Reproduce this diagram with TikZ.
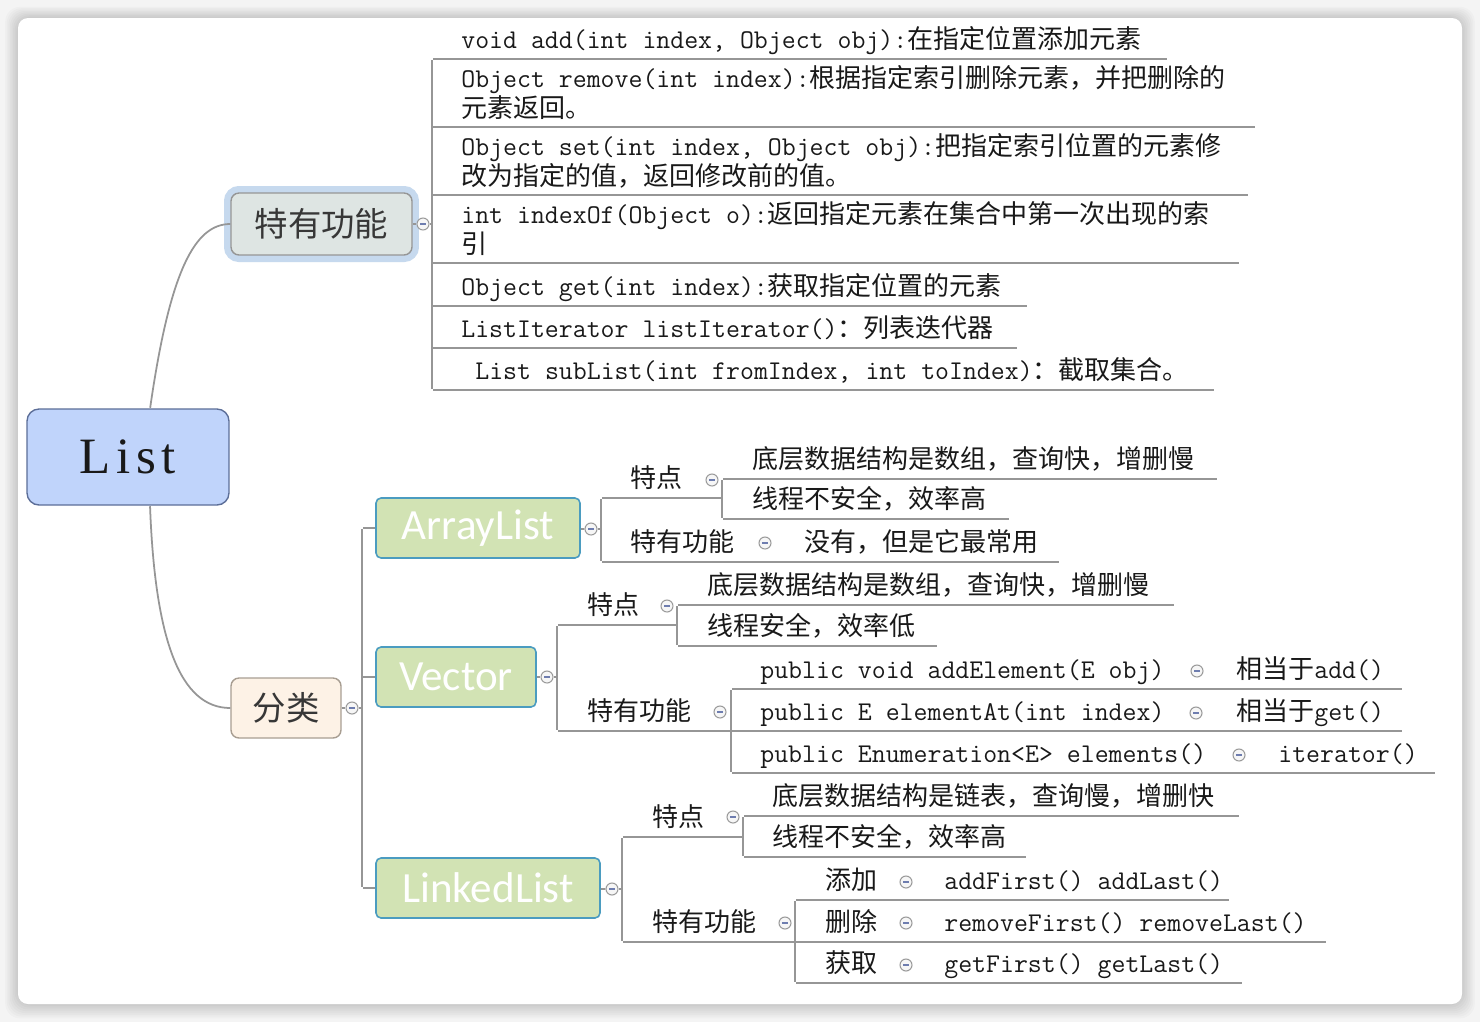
\documentclass[tikz,border=0pt]{standalone}
\usepackage{fontspec}
\usepackage{xcolor}
\usepackage{tikz}
\setmainfont{Latin Modern Mono}
\newfontfamily\hanzi{Noto Sans CJK SC}[Scale=0.961]
\newfontfamily\kindfont{Carlito}
\newfontfamily\rootfont{Liberation Serif}[LetterSpace=11]
\definecolor{bg}{RGB}{244,244,244}
\definecolor{rootfill}{RGB}{192,212,251}
\definecolor{rootline}{RGB}{92,110,152}
\definecolor{hubfill}{RGB}{222,229,227}
\definecolor{hubline}{RGB}{150,150,150}
\definecolor{halo}{RGB}{198,217,238}
\definecolor{catfill}{RGB}{253,242,230}
\definecolor{catline}{RGB}{168,158,146}
\definecolor{kindfill}{RGB}{210,227,180}
\definecolor{kindline}{RGB}{75,156,192}
\definecolor{linegray}{RGB}{150,150,150}
\definecolor{foldline}{RGB}{155,155,155}
\definecolor{foldfill}{RGB}{246,246,246}
\definecolor{foldbar}{RGB}{110,125,175}
\definecolor{ink}{RGB}{25,25,25}
\definecolor{hubink}{RGB}{55,55,55}
\pgfdeclarelayer{background}
\pgfdeclarelayer{nodelayer}
\pgfdeclarelayer{edgelayer}
\pgfsetlayers{background,nodelayer,edgelayer,main}
\tikzset{
    none/.style = {inner sep=0pt},
    root/.style = {rectangle, rounded corners=0.24cm, draw=rootline, fill=rootfill, line width=0.8pt,
                   minimum width=4.04cm, minimum height=1.92cm, text=ink, font=\rootfont\fontsize{29}{29}\selectfont},
    hub/.style = {rectangle, rounded corners=0.16cm, draw=hubline, line width=0.8pt, text=hubink,
                  font=\fontsize{19.8}{19.8}\selectfont\hanzi},
    kind/.style = {rectangle, rounded corners=0.1cm, draw=kindline, fill=kindfill, line width=0.9pt,
                   minimum height=1.2cm, text=white, font=\kindfont\fontsize{24.5}{24.5}\selectfont},
    fold/.style = {circle, draw=foldline, fill=foldfill, line width=0.6pt, inner sep=0pt, minimum size=0.24cm,
                   path picture={\draw [foldbar, line width=0.6pt] ([xshift=-0.06cm]path picture bounding box.center) -- ([xshift=0.06cm]path picture bounding box.center);}},
    leaf/.style = {inner sep=0pt, anchor=base west, text=ink, font=\fontsize{15.4}{17}\selectfont},
    upper/.style = {text depth=0pt},
    lower/.style = {text height=0.5em},
    branch/.style = {draw=linegray, line width=1pt, rounded corners=0.08cm}
}

\begin{document}
\begin{tikzpicture}[x=0.02cm, y=-0.02cm]
  \useasboundingbox (0,0) rectangle (1480,1022);
  \begin{pgfonlayer}{background}
    \fill [bg] (0,0) rectangle (1480,1022);
    \foreach \k in {1,...,8}
      \fill [black, opacity=0.02, rounded corners=0.3cm] ({18-1.6*\k},{18-1.4*\k}) rectangle ({1462+1.6*\k},{1004+1.8*\k});
    \fill [white, rounded corners=0.2cm] (18,18) rectangle (1462,1004);
  \end{pgfonlayer}
  \begin{pgfonlayer}{nodelayer}
    \node [style=root] (0) at (128,457) {List};
    \node [style=hub, fill=hubfill, preaction={draw=halo, line width=0.28cm}, minimum width=3.62cm, minimum height=1.24cm] (1) at (321.5,224) {特有功能};
    \node [style=hub, fill=catfill, draw=catline, minimum width=2.2cm, minimum height=1.2cm] (2) at (286,708) {分类};
    \node [style=kind, minimum width=4.08cm] (3) at (478,528) {ArrayList};
    \node [style=kind, minimum width=3.2cm] (4) at (456,677) {Vector};
    \node [style=kind, minimum width=4.48cm] (5) at (488,888) {LinkedList};
    \node [style=fold] (6) at (423,224) {};
    \node [style=fold] (7) at (352,708) {};
    \node [style=fold] (8) at (591,529) {};
    \node [style=fold] (9) at (547,677) {};
    \node [style=fold] (10) at (612,889) {};
    \node [style=fold] (11) at (712,480) {};
    \node [style=fold] (12) at (765,543) {};
    \node [style=fold] (13) at (667,606) {};
    \node [style=fold] (14) at (720,712) {};
    \node [style=fold] (15) at (1197,671) {};
    \node [style=fold] (16) at (1196,713) {};
    \node [style=fold] (17) at (1239,755) {};
    \node [style=fold] (18) at (733,817) {};
    \node [style=fold] (19) at (785,923) {};
    \node [style=fold] (20) at (906,882) {};
    \node [style=fold] (21) at (906,923) {};
    \node [style=fold] (22) at (906,965) {};
    \node [style=none] (23) at (150,409) {};
    \node [style=none] (24) at (150,505) {};
    \node [style=leaf] (25) at (461,48) {void add(int index, Object obj):{\hanzi 在指定位置添加元素}};
    \node [style=leaf, style=upper] (26) at (461,87) {Object remove(int index):{\hanzi 根据指定索引删除元素，并把删除的}};
    \node [style=leaf, style=lower] (27) at (461,117) {{\hanzi 元素返回。}};
    \node [style=leaf, style=upper] (28) at (461,155) {Object set(int index, Object obj):{\hanzi 把指定索引位置的元素修}};
    \node [style=leaf, style=lower] (29) at (461,185) {{\hanzi 改为指定的值，返回修改前的值。}};
    \node [style=leaf, style=upper] (30) at (461,223) {int indexOf(Object o):{\hanzi 返回指定元素在集合中第一次出现的索}};
    \node [style=leaf, style=lower] (31) at (461,253) {{\hanzi 引}};
    \node [style=leaf] (32) at (461,295) {Object get(int index):{\hanzi 获取指定位置的元素}};
    \node [style=leaf] (33) at (461,337) {ListIterator listIterator(){\hanzi ：列表迭代器}};
    \node [style=leaf] (34) at (475,379) {List subList(int fromIndex, int toIndex){\hanzi ：截取集合。}};
    \node [style=none] (35) at (432,59) {};
    \node [style=none] (36) at (432,127) {};
    \node [style=none] (37) at (432,195) {};
    \node [style=none] (38) at (432,263) {};
    \node [style=none] (39) at (432,306) {};
    \node [style=none] (40) at (432,348) {};
    \node [style=none] (41) at (432,390) {};
    \node [style=none] (42) at (1168,59) {};
    \node [style=none] (43) at (1256,127) {};
    \node [style=none] (44) at (1249,195) {};
    \node [style=none] (45) at (1240,263) {};
    \node [style=none] (46) at (1028,306) {};
    \node [style=none] (47) at (1018,348) {};
    \node [style=none] (48) at (1215,390) {};
    \node [style=none] (49) at (432,224) {};
    \node [style=none] (50) at (362,708) {};
    \node [style=none] (51) at (362,528) {};
    \node [style=none] (52) at (362,677) {};
    \node [style=none] (53) at (362,888) {};
    \node [style=none] (54) at (601,529) {};
    \node [style=none] (55) at (601,498) {};
    \node [style=none] (56) at (722,498) {};
    \node [style=none] (57) at (601,562) {};
    \node [style=none] (58) at (1060,562) {};
    \node [style=leaf] (59) at (630,487) {{\hanzi 特点}};
    \node [style=leaf] (60) at (630,551) {{\hanzi 特有功能}};
    \node [style=leaf] (61) at (804,551) {{\hanzi 没有，但是它最常用}};
    \node [style=none] (62) at (722,479) {};
    \node [style=none] (63) at (1218,479) {};
    \node [style=none] (64) at (722,519) {};
    \node [style=none] (65) at (1010,519) {};
    \node [style=leaf] (66) at (752,468) {{\hanzi 底层数据结构是数组，查询快，增删慢}};
    \node [style=leaf] (67) at (752,508) {{\hanzi 线程不安全，效率高}};
    \node [style=none] (68) at (557,677) {};
    \node [style=none] (69) at (557,625) {};
    \node [style=none] (70) at (677,625) {};
    \node [style=none] (71) at (557,731) {};
    \node [style=leaf] (72) at (587,614) {{\hanzi 特点}};
    \node [style=leaf] (73) at (587,720) {{\hanzi 特有功能}};
    \node [style=none] (74) at (677,605) {};
    \node [style=none] (75) at (1175,605) {};
    \node [style=none] (76) at (677,646) {};
    \node [style=none] (77) at (938,646) {};
    \node [style=leaf] (78) at (707,594) {{\hanzi 底层数据结构是数组，查询快，增删慢}};
    \node [style=leaf] (79) at (707,635) {{\hanzi 线程安全，效率低}};
    \node [style=none] (80) at (731,689) {};
    \node [style=none] (81) at (1403,689) {};
    \node [style=none] (82) at (1403,731) {};
    \node [style=none] (83) at (731,773) {};
    \node [style=none] (84) at (1436,773) {};
    \node [style=leaf] (85) at (760,678) {public void addElement(E obj)};
    \node [style=leaf] (86) at (760,720) {public E elementAt(int index)};
    \node [style=leaf] (87) at (760,762) {public Enumeration<E> elements()};
    \node [style=leaf] (88) at (1236,678) {{\hanzi 相当于}add()};
    \node [style=leaf] (89) at (1236,720) {{\hanzi 相当于}get()};
    \node [style=leaf] (90) at (1278,762) {iterator()};
    \node [style=none] (91) at (622,889) {};
    \node [style=none] (92) at (622,837) {};
    \node [style=none] (93) at (743,837) {};
    \node [style=none] (94) at (622,942) {};
    \node [style=none] (95) at (1327,942) {};
    \node [style=leaf] (96) at (652,826) {{\hanzi 特点}};
    \node [style=leaf] (97) at (652,931) {{\hanzi 特有功能}};
    \node [style=none] (98) at (743,816) {};
    \node [style=none] (99) at (1240,816) {};
    \node [style=none] (100) at (743,857) {};
    \node [style=none] (101) at (1027,857) {};
    \node [style=leaf] (102) at (772,805) {{\hanzi 底层数据结构是链表，查询慢，增删快}};
    \node [style=leaf] (103) at (772,846) {{\hanzi 线程不安全，效率高}};
    \node [style=none] (104) at (795,900) {};
    \node [style=none] (105) at (1230,900) {};
    \node [style=none] (106) at (795,983) {};
    \node [style=none] (107) at (1243,983) {};
    \node [style=leaf] (108) at (825,889) {{\hanzi 添加}};
    \node [style=leaf] (109) at (825,931) {{\hanzi 删除}};
    \node [style=leaf] (110) at (825,972) {{\hanzi 获取}};
    \node [style=leaf] (111) at (944,889) {addFirst() addLast()};
    \node [style=leaf] (112) at (944,931) {removeFirst() removeLast()};
    \node [style=leaf] (113) at (944,972) {getFirst() getLast()};
  \end{pgfonlayer}
  \begin{pgfonlayer}{edgelayer}
    \draw [style=branch] (23) .. controls (170,270) and (195,224) .. (1);
    \draw [style=branch] (24) .. controls (155,640) and (180,708) .. (2);
    \draw [style=branch] (1) to (6);
    \draw [style=branch] (6) to (49);
    \draw [style=branch] (42) -- (35) -- (41) -- (48);
    \draw [style=branch] (36) to (43);
    \draw [style=branch] (37) to (44);
    \draw [style=branch] (38) to (45);
    \draw [style=branch] (39) to (46);
    \draw [style=branch] (40) to (47);
    \draw [style=branch] (2) to (7);
    \draw [style=branch] (7) to (50);
    \draw [style=branch] (3) -- (51) -- (53) -- (5);
    \draw [style=branch] (52) to (4);
    \draw [style=branch] (3) to (8);
    \draw [style=branch] (8) to (54);
    \draw [style=branch] (56) -- (55) -- (57) -- (58);
    \draw [style=branch] (63) -- (62) -- (64) -- (65);
    \draw [style=branch] (4) to (9);
    \draw [style=branch] (9) to (68);
    \draw [style=branch] (70) -- (69) -- (71) -- (82);
    \draw [style=branch] (75) -- (74) -- (76) -- (77);
    \draw [style=branch] (81) -- (80) -- (83) -- (84);
    \draw [style=branch] (5) to (10);
    \draw [style=branch] (10) to (91);
    \draw [style=branch] (93) -- (92) -- (94) -- (95);
    \draw [style=branch] (99) -- (98) -- (100) -- (101);
    \draw [style=branch] (105) -- (104) -- (106) -- (107);
  \end{pgfonlayer}
\end{tikzpicture}
\end{document}
